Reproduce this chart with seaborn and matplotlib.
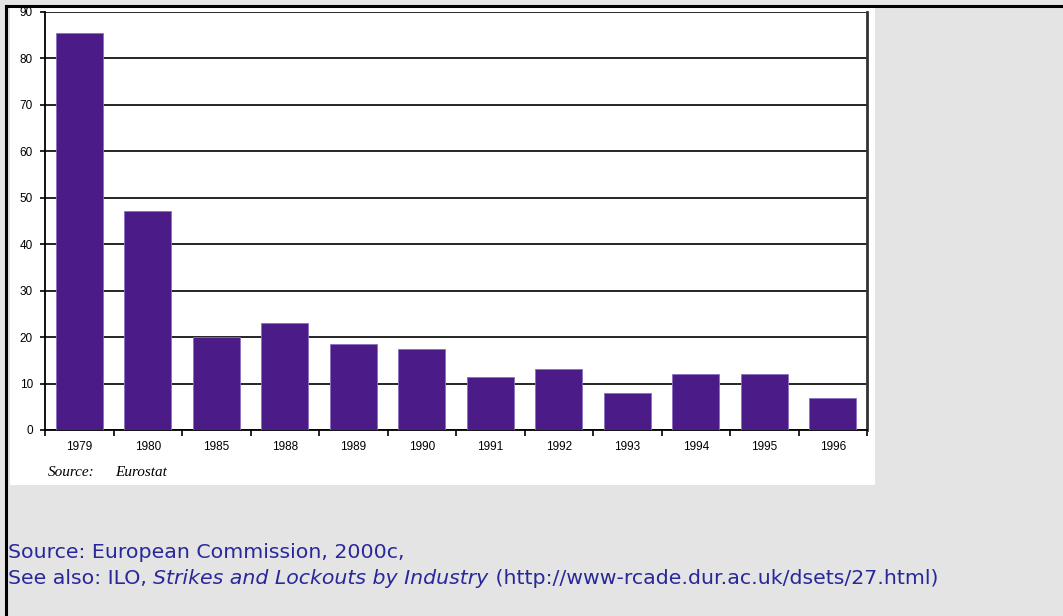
import matplotlib
matplotlib.use('Agg')
import matplotlib.pyplot as plt
import seaborn as sns
import pandas as pd
from matplotlib.patches import Rectangle
from matplotlib.lines import Line2D

# Values
years = ['1979', '1980', '1985', '1988', '1989', '1990', '1991', '1992', '1993', '1994', '1995', '1996']
values = [85.5, 47.2, 20.0, 23.0, 18.5, 17.5, 11.4, 13.1, 8.0, 12.1, 12.1, 6.9]
y_ticks = [0, 10, 20, 30, 40, 50, 60, 70, 80, 90]

df = pd.DataFrame({'Year': years, 'Value': values})

W, H = 1063, 616
fig = plt.figure(figsize=(W / 100, H / 100), dpi=100)
fig.patch.set_facecolor('#e4e4e4')

# white panel behind the chart + black frame lines
fig.patches.append(Rectangle((10 / W, 1 - 485 / H), 865 / W, 477 / H,
                             transform=fig.transFigure, facecolor='white',
                             edgecolor='none', zorder=-10))
fig.lines.append(Line2D([6 / W, 1], [1 - 6 / H, 1 - 6 / H], transform=fig.transFigure,
                        color='black', lw=2.2, zorder=-5))
fig.lines.append(Line2D([6 / W, 6 / W], [0, 1 - 6 / H], transform=fig.transFigure,
                        color='black', lw=2.2, zorder=-5))

ax = fig.add_axes([45 / W, 1 - 430 / H, 822 / W, 418 / H])
ax.set_facecolor('white')
sns.barplot(data=df, x='Year', y='Value', color='#4b1c87', width=0.69,
            edgecolor='#8a70c0', linewidth=0.6, saturation=1, ax=ax, zorder=3)

ax.set_xlim(-0.5, len(years) - 0.5)
ax.set_ylim(0, 90)
ax.set_yticks(y_ticks)
ax.yaxis.grid(True, color='black', linewidth=1.2, zorder=1)
ax.set_axisbelow(True)
ax.set_xlabel('')
ax.set_ylabel('')

# ticks sit between the categories
ax.set_xticks([i - 0.5 for i in range(len(years) + 1)], minor=True)
ax.tick_params(axis='x', which='major', length=0, pad=8, labelsize=8.5)
ax.tick_params(axis='x', which='minor', length=4, width=1.2, color='black', direction='out')
ax.tick_params(axis='y', length=3.6, width=1.2, labelsize=8.5, pad=5)
for lab in ax.get_xticklabels() + ax.get_yticklabels():
    lab.set_family('Liberation Sans')

for s in ['left', 'bottom', 'right']:
    ax.spines[s].set_color('black')
    ax.spines[s].set_linewidth(1.3)
ax.spines['right'].set_color('#333333')
ax.spines['right'].set_linewidth(2)
ax.spines['top'].set_visible(False)

fig.text(48 / W, 1 - 472 / H, 'Source:', fontsize=11, style='italic',
         family='Liberation Serif', va='center')
fig.text(115 / W, 1 - 472 / H, 'Eurostat', fontsize=11, style='italic',
         family='Liberation Serif', va='center')

# footnote lines in blue, with the italic title in the middle
blue = '#28289b'
fam = 'DejaVu Sans'
parts = [('See also: ILO, ', 'normal'),
         ('Strikes and Lockouts by Industry', 'italic'),
         (' (http://www-rcade.dur.ac.uk/dsets/27.html)', 'normal')]

# fit the font size so the second line ends where the reference does
r = fig.canvas.get_renderer()
total = 0
for txt, st in parts:
    t = fig.text(0, 0, txt, fontsize=10, family=fam, style=st)
    total += t.get_window_extent(renderer=r).width
    t.remove()
fsz = 10 * 927 / total

fig.text(8 / W, 1 - 553 / H, 'Source: European Commission, 2000c,', color=blue,
         fontsize=fsz, family=fam, va='center')
x = 8
for txt, st in parts:
    t = fig.text(x / W, 1 - 578 / H, txt, color=blue, fontsize=fsz, family=fam,
                 style=st, va='center')
    x += t.get_window_extent(renderer=r).width

fig.savefig('out.png', dpi=100, facecolor=fig.get_facecolor())
